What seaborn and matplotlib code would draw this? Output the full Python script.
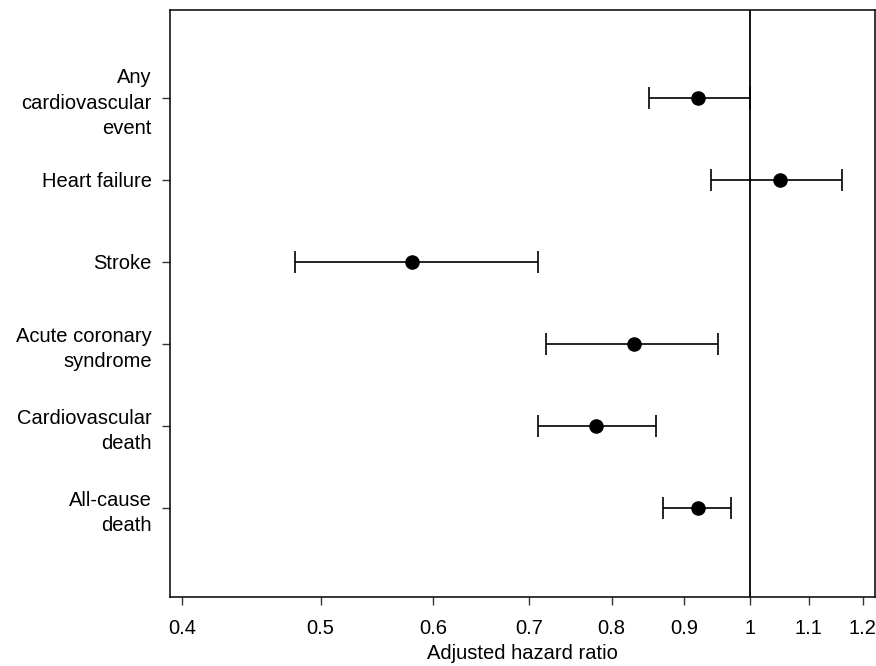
import pandas as pd
import matplotlib
matplotlib.use('Agg')
import matplotlib.pyplot as plt
import seaborn as sns

# Outcomes and adjusted hazard ratios
outcomes = ['Any\ncardiovascular\nevent', 'Heart failure', 'Stroke',
            'Acute coronary\nsyndrome', 'Cardiovascular\ndeath', 'All-cause\ndeath']
hr = [0.92, 1.05, 0.58, 0.83, 0.78, 0.92]
ci_low = [0.85, 0.94, 0.48, 0.72, 0.71, 0.87]
ci_high = [1.00, 1.16, 0.71, 0.95, 0.86, 0.97]
xticks = [0.4, 0.5, 0.6, 0.7, 0.8, 0.9, 1, 1.1, 1.2]
xtick_labels = ['0.4', '0.5', '0.6', '0.7', '0.8', '0.9', '1', '1.1', '1.2']

df = pd.DataFrame({'outcome': outcomes, 'hr': hr, 'lo': ci_low, 'hi': ci_high})
df['pos'] = range(len(df))

sns.set_style('ticks', {'text.color': 'black', 'xtick.color': 'black',
                        'ytick.color': 'black', 'axes.labelcolor': 'black'})
plt.rcParams['font.family'] = ['Liberation Sans', 'DejaVu Sans']

fig = plt.figure(figsize=(8.76, 6.66), dpi=100)
ax = fig.add_axes([0.194, 0.1036, 0.8049, 0.8814])

# reference line at HR = 1
ax.axvline(1, color='black', lw=1.3, zorder=1)

# confidence intervals
ax.errorbar(df['hr'], df['pos'],
            xerr=[df['hr'] - df['lo'], df['hi'] - df['hr']],
            fmt='none', ecolor='black', elinewidth=1.2, capsize=8, capthick=1.2, zorder=2)

# point estimates
sns.scatterplot(data=df, x='hr', y='pos', color='black', s=110, edgecolor='black',
                linewidth=0, zorder=3, ax=ax, legend=False)

ax.set_xscale('log')
ax.set_xlim(0.392, 1.2245)
ax.set_xticks(xticks)
ax.set_xticklabels(xtick_labels)
ax.xaxis.set_minor_locator(matplotlib.ticker.NullLocator())
ax.set_ylim(6.09, -1.07)
ax.set_yticks(df['pos'])
ax.set_yticklabels(df['outcome'], ha='right', multialignment='right', linespacing=1.45)

ax.set_xlabel('Adjusted hazard ratio', fontsize=14.5, labelpad=4, color='black')
ax.set_ylabel('')
ax.tick_params(axis='both', labelsize=14.5, length=6, width=1, color='#333333',
               labelcolor='black')
ax.tick_params(axis='x', pad=10)
ax.tick_params(axis='y', pad=7)

for side in ['top', 'right', 'left', 'bottom']:
    ax.spines[side].set_visible(True)
    ax.spines[side].set_linewidth(1.1)
    ax.spines[side].set_color('black')

fig.savefig('out.png', dpi=100)
